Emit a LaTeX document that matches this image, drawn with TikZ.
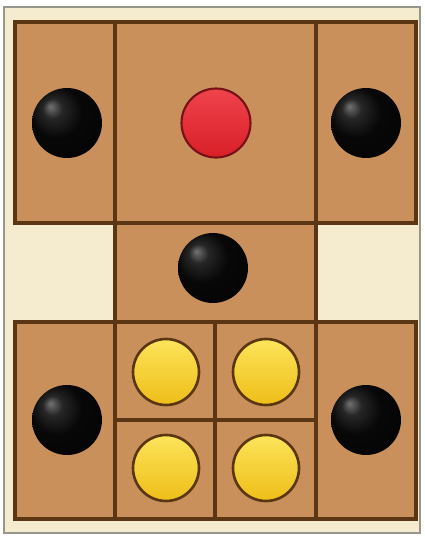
\documentclass[tikz,border=0pt]{standalone}
\usetikzlibrary{positioning, calc}
\definecolor{boardbrown}{RGB}{201,144,92}
\definecolor{gridbrown}{RGB}{90,54,20}
\definecolor{creamfill}{RGB}{245,236,208}
\definecolor{framegrey}{RGB}{150,150,140}
\definecolor{coinyellow}{RGB}{238,190,24}
\definecolor{coinlight}{RGB}{252,228,90}
\definecolor{pinred}{RGB}{236,34,44}
\pgfdeclareradialshading{darkball}{\pgfpoint{-12bp}{12bp}}{color(0bp)=(black!55); color(7bp)=(black!85); color(18bp)=(black!97); color(50bp)=(black)}
\tikzset{
  cell/.style={draw=gridbrown, line width=2.2pt, fill=boardbrown},
  grid/.style={draw=gridbrown, line width=2.2pt},
  bball/.style={circle, inner sep=0pt, minimum size=1.4cm, shading=darkball},
  rball/.style={circle, inner sep=0pt, minimum size=1.38cm, draw=pinred!50!black, line width=1.2pt,
    top color=pinred!85!white, bottom color=pinred!92!black},
  yball/.style={circle, inner sep=0pt, minimum size=1.32cm, draw=gridbrown, line width=1.5pt,
    top color=coinlight, bottom color=coinyellow}
}
\begin{document}
\begin{tikzpicture}[x=0.02cm, y=-0.02cm]
\useasboundingbox (0,0) rectangle (425,538);
% frame
\draw[draw=framegrey, line width=1.2pt, fill=creamfill] (4,7) rectangle (420,533);
% board blocks
\draw[cell] (15,22) rectangle (416,223);
\draw[cell] (115,223) rectangle (316,322);
\draw[cell] (15,322) rectangle (416,519);
\draw[grid] (115,22) -- (115,223) (316,22) -- (316,223);
\draw[grid] (115,322) -- (115,519) (316,322) -- (316,519);
\draw[grid] (215,322) -- (215,519) (115,420) -- (316,420);
% pieces
\node[bball] (tl) at (67,123) {};
\node[rball] (red) at (216,123) {};
\node[bball] (tr) at (366,123) {};
\node[bball] (mid) at (213,268) {};
\node[bball] (bl) at (67,420) {};
\node[bball] (br) at (366,420) {};
\node[yball] (y1) at (166,372) {};
\node[yball] (y2) at (266,372) {};
\node[yball] (y3) at (166,468) {};
\node[yball] (y4) at (266,468) {};
\end{tikzpicture}
\end{document}
